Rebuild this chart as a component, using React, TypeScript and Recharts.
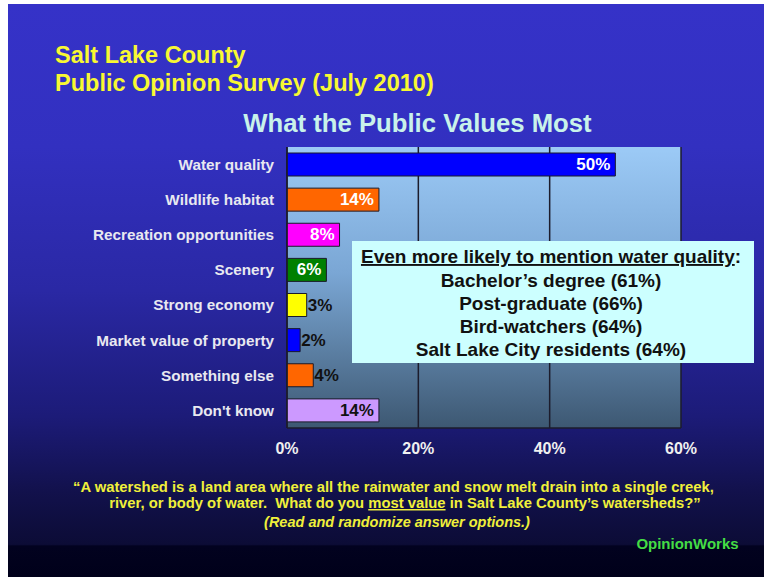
import React from "react";
import {
  BarChart,
  Bar,
  XAxis,
  YAxis,
  CartesianGrid,
  Cell,
  LabelList,
} from "recharts";

const categories = [
  "Water quality",
  "Wildlife habitat",
  "Recreation opportunities",
  "Scenery",
  "Strong economy",
  "Market value of property",
  "Something else",
  "Don't know",
];
const values = [50, 14, 8, 6, 3, 2, 4, 14];
const barColors = ["#0000ff", "#ff6600", "#ff00ff", "#008000", "#ffff00", "#0000ff", "#ff6600", "#cc99ff"];
const labelColors = ["#ffffff", "#ffffff", "#ffffff", "#ffffff", "#111111", "#111111", "#111111", "#111111"];
const xTicks = [0, 20, 40, 60];

const titleLines = ["Salt Lake County", "Public Opinion Survey (July 2010)"];
const subtitle = "What the Public Values Most";
const boxHeader = "Even more likely to mention water quality";
const boxLines = [
  "Bachelor\u2019s degree (61%)",
  "Post-graduate (66%)",
  "Bird-watchers (64%)",
  "Salt Lake City residents (64%)",
];

const data = categories.map((name, i) => ({ name, value: values[i] }));

const FONT = "'Liberation Sans', Arial, Helvetica, sans-serif";
const W = 756;
const H = 573;

const BarLabel = (props: any) => {
  const { x, y, width, height, value, index } = props;
  const inside = value >= 6 && index < 4 ? true : value >= 10;
  const tx = inside ? x + width - 5 : x + width + 1;
  return (
    <text
      x={tx}
      y={y + height / 2}
      textAnchor={inside ? "end" : "start"}
      dominantBaseline="central"
      fill={labelColors[index]}
      fontFamily={FONT}
      fontWeight="bold"
      fontSize={17}
    >
      {value}%
    </text>
  );
};

export default function App() {
  return (
    <div
      style={{
        position: "absolute",
        left: 8,
        top: 4,
        width: W,
        height: H,
        overflow: "hidden",
        background:
          "linear-gradient(to bottom, #3532c8 0%, #3230c0 25%, #2a28a4 50%, #1c1b78 72%, #12114c 85%, #0c0c36 94.3%, #02021f 94.6%, #00001a 100%)",
        fontFamily: FONT,
      }}
    >
      <BarChart
        width={W}
        height={H}
        data={data}
        layout="vertical"
        margin={{ top: 143, right: 83, bottom: 119, left: 0 }}
      >
        <defs>
          <linearGradient id="plotBg" x1="0" y1="0" x2="0" y2="1">
            <stop offset="0%" stopColor="#9ccaf6" />
            <stop offset="45%" stopColor="#7aa6d4" />
            <stop offset="100%" stopColor="#3d5872" />
          </linearGradient>
        </defs>
        <CartesianGrid
          horizontal={false}
          vertical={true}
          stroke="#1c1c2c"
          strokeWidth={1.5}
          fill="url(#plotBg)"
          fillOpacity={1}
        />
        <XAxis
          type="number"
          domain={[0, 60]}
          ticks={xTicks}
          tickFormatter={(v: number) => `${v}%`}
          axisLine={{ stroke: "#1c1c2c", strokeWidth: 1.5 }}
          tickLine={false}
          tickSize={0}
          tickMargin={15}
          height={30}
          tick={{ fill: "#f0f0f0", fontSize: 16, fontWeight: "bold", fontFamily: FONT }}
        />
        <XAxis
          xAxisId="top"
          orientation="top"
          type="number"
          domain={[0, 60]}
          ticks={xTicks}
          tick={false}
          tickLine={false}
          height={0}
          axisLine={{ stroke: "#1c1c2c", strokeWidth: 1.5 }}
        />
        <YAxis
          type="category"
          dataKey="name"
          width={279}
          axisLine={{ stroke: "#1c1c2c", strokeWidth: 1.5 }}
          tickLine={false}
          tickSize={0}
          tickMargin={13}
          interval={0}
          tick={{ fill: "#e8e8f0", fontSize: 15.3, fontWeight: "bold", fontFamily: FONT }}
        />
        <Bar dataKey="value" barSize={23} stroke="#1a1a2a" strokeWidth={1} isAnimationActive={false}>
          {data.map((d, i) => (
            <Cell key={d.name} fill={barColors[i]} />
          ))}
          <LabelList dataKey="value" content={BarLabel} />
        </Bar>
      </BarChart>

      <svg
        width={W}
        height={H}
        style={{ position: "absolute", left: 0, top: 0, pointerEvents: "none" }}
        fontFamily={FONT}
      >
        {titleLines.map((t, i) => (
          <text key={t} x={47} y={59 + i * 28} fill="#f8f832" fontSize={23.5} fontWeight="bold">
            {t}
          </text>
        ))}
        <text x={409.5} y={128} textAnchor="middle" fill="#c8f2ea" fontSize={25.7} fontWeight="bold">
          {subtitle}
        </text>

        <rect x={344} y={237} width={402} height={122} fill="#ccffff" />
        <text x={543} y={259} textAnchor="middle" fill="#111" fontSize={19} fontWeight="bold">
          <tspan textDecoration="underline">{boxHeader}</tspan>:
        </text>
        {boxLines.map((t, i) => (
          <text key={t} x={543} y={283 + i * 23} textAnchor="middle" fill="#111" fontSize={19} fontWeight="bold">
            {t}
          </text>
        ))}

        <text x={385.5} y={488} textAnchor="middle" fill="#f0f03a" fontSize={14.8} fontWeight="bold">
          {"\u201cA watershed is a land area where all the rainwater and snow melt drain into a single creek,"}
        </text>
        <text x={397} y={504} textAnchor="middle" fill="#f0f03a" fontSize={14.8} fontWeight="bold" xmlSpace="preserve">
          {"river, or body of water.  What do you "}
          <tspan textDecoration="underline">most value</tspan>
          {" in Salt Lake County\u2019s watersheds?\u201d"}
        </text>
        <text x={389} y={523} textAnchor="middle" fill="#f0f03a" fontSize={14.5} fontWeight="bold" fontStyle="italic">
          (Read and randomize answer options.)
        </text>
        <text x={679.5} y={545} textAnchor="middle" fill="#44dd44" fontSize={15} fontWeight="bold">
          OpinionWorks
        </text>
      </svg>
    </div>
  );
}
